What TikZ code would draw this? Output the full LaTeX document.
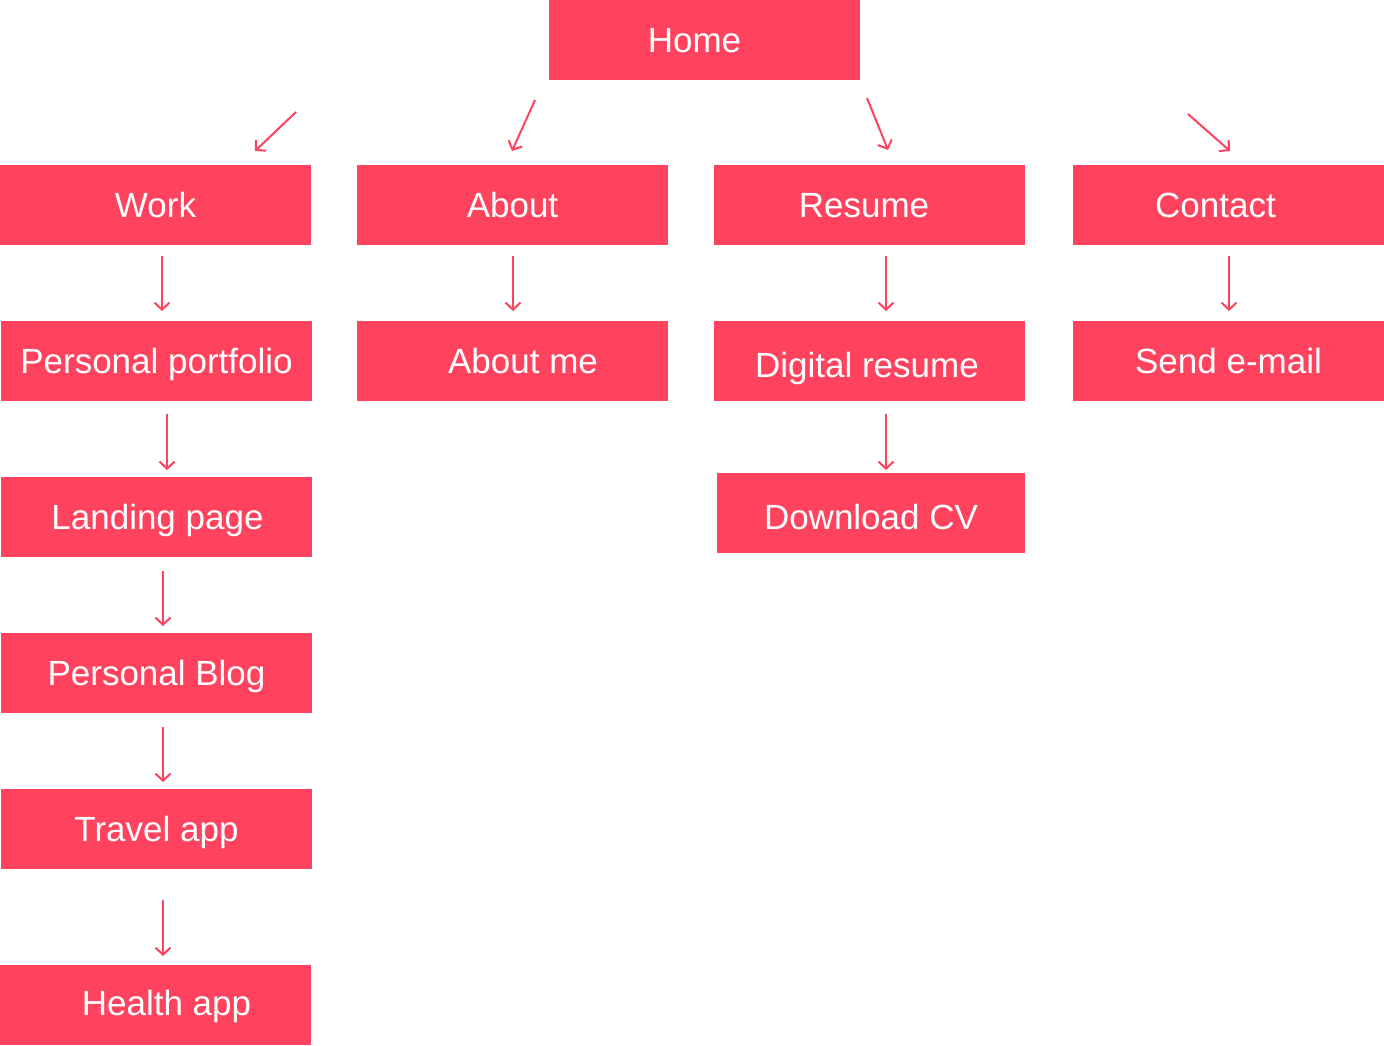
\documentclass[tikz,border=0pt]{standalone}
\usepackage{fontspec}
\setmainfont{Liberation Sans}
\usetikzlibrary{arrows.meta}
\definecolor{boxred}{HTML}{FF425D}
\tikzset{
  pagebox/.style={rectangle, fill=boxred, text=white, inner sep=0pt,
    minimum width=311pt, minimum height=80pt, text height=25pt, text depth=0pt,
    font=\fontsize{35pt}{40pt}\selectfont},
  link/.style={draw=boxred, line width=2pt, -{Straight Barb[length=7pt,width=15pt]}}
}
\newcommand{\lsh}[1]{\hspace*{#1pt}}
\begin{document}
\begin{tikzpicture}[x=1pt,y=-1pt]
\useasboundingbox (0,0) rectangle (1384,1045);
% boxes
\node[pagebox] (home) at (704.5,40) {Home\lsh{20}};
\node[pagebox] (work) at (155.5,205) {Work};
\node[pagebox] (about) at (512.5,205) {About};
\node[pagebox] (resume) at (869.5,205) {Resume\lsh{11}};
\node[pagebox] (contact) at (1228.5,205) {Contact\lsh{26}};
\node[pagebox] (portfolio) at (156.5,361) {Personal portfolio};
\node[pagebox] (aboutme) at (512.5,361) {\lsh{21}About me};
\node[pagebox] (digital) at (869.5,361) {\raisebox{-3.5pt}{Digital resume}\lsh{5}};
\node[pagebox] (email) at (1228.5,361) {Send e-mail};
\node[pagebox] (landing) at (156.5,517) {\lsh{2}Landing page};
\node[pagebox, minimum width=308pt] (cv) at (871,513) {\raisebox{-3.5pt}{Download CV}};
\node[pagebox] (blog) at (156.5,673) {Personal Blog};
\node[pagebox] (travel) at (156.5,829) {Travel app};
\node[pagebox] (health) at (155.5,1005) {\lsh{22}\raisebox{2pt}{Health app}};
% arrow end points
\coordinate (h1s) at (296,112); \coordinate (h1e) at (255,151);
\coordinate (h2s) at (535,100); \coordinate (h2e) at (512,151);
\coordinate (h3s) at (867,98);  \coordinate (h3e) at (888,150);
\coordinate (h4s) at (1188,114); \coordinate (h4e) at (1230,151);
\coordinate (w1s) at (162,256); \coordinate (w1e) at (162,311);
\coordinate (w2s) at (167,414); \coordinate (w2e) at (167,470);
\coordinate (w3s) at (163,571); \coordinate (w3e) at (163,626);
\coordinate (w4s) at (163,727); \coordinate (w4e) at (163,782);
\coordinate (w5s) at (163,900); \coordinate (w5e) at (163,956);
\coordinate (a1s) at (513,256); \coordinate (a1e) at (513,311);
\coordinate (r1s) at (886,256); \coordinate (r1e) at (886,311);
\coordinate (r2s) at (886,414); \coordinate (r2e) at (886,470);
\coordinate (c1s) at (1229,256); \coordinate (c1e) at (1229,311);
% arrows
\foreach \a in {h1,h2,h3,h4,w1,w2,w3,w4,w5,a1,r1,r2,c1}
  \draw[link] (\a s) -- (\a e);
\end{tikzpicture}
\end{document}
